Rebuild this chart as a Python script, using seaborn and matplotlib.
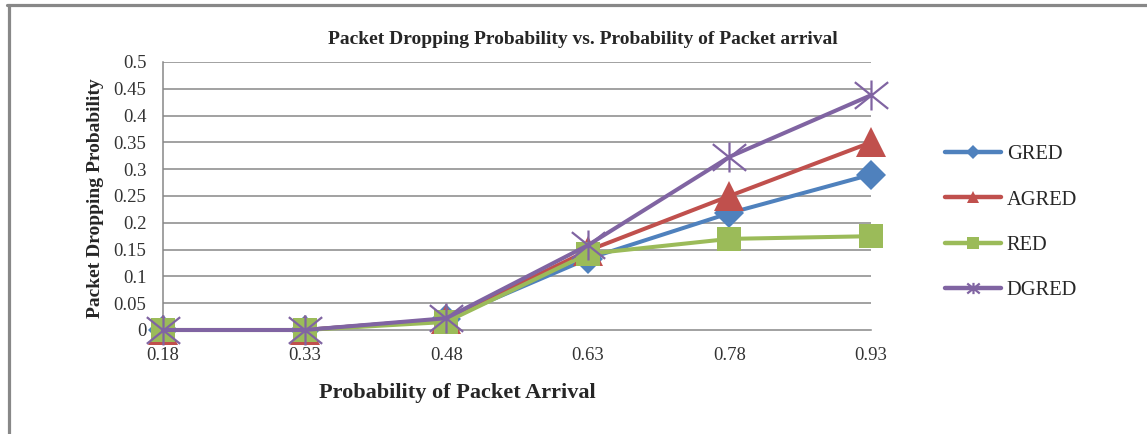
import numpy as np
import pandas as pd
import matplotlib
matplotlib.use("Agg")
import matplotlib.pyplot as plt
import seaborn as sns
from matplotlib.path import Path
from matplotlib.lines import Line2D

# ---------------- data ----------------
categories = ["0.18", "0.33", "0.48", "0.63", "0.78", "0.93"]
gred = [0.0, 0.0, 0.02, 0.133, 0.218, 0.29]
agred = [0.0, 0.0, 0.02, 0.148, 0.25, 0.35]
red = [0.0, 0.0, 0.015, 0.142, 0.17, 0.175]
dgred = [0.0, 0.0, 0.022, 0.158, 0.323, 0.438]
series_names = ["GRED", "AGRED", "RED", "DGRED"]
ytick_values = [0, 0.05, 0.1, 0.15, 0.2, 0.25, 0.3, 0.35, 0.4, 0.45, 0.5]
ytick_labels = ["0", "0.05", "0.1", "0.15", "0.2", "0.25", "0.3", "0.35", "0.4", "0.45", "0.5"]
title = "Packet Dropping Probability vs. Probability of Packet arrival"
xlabel = "Probability of Packet Arrival"
ylabel = "Packet Dropping Probability"

values = {"GRED": gred, "AGRED": agred, "RED": red, "DGRED": dgred}
pos = np.arange(len(categories))
df = pd.DataFrame(
    [(p, v, s) for s in series_names for p, v in zip(pos, values[s])],
    columns=["pos", "value", "series"],
)

# ---------------- style ----------------
sns.set_theme(style="white")
plt.rcParams["font.family"] = ["Liberation Serif", "DejaVu Serif"]

colors = {"GRED": "#4F81BD", "AGRED": "#C0504D", "RED": "#9BBB59", "DGRED": "#8064A2"}
star = Path(
    [(0, -0.9), (0, 0.9), (-1, -0.8), (1, 0.8), (-1, 0.8), (1, -0.8)],
    [Path.MOVETO, Path.LINETO, Path.MOVETO, Path.LINETO, Path.MOVETO, Path.LINETO],
)
markers = {"GRED": "D", "AGRED": "^", "RED": "s", "DGRED": star}
msizes = {"GRED": 15, "AGRED": 22, "RED": 17.5, "DGRED": 24}
leg_msizes = {"GRED": 7, "AGRED": 8, "RED": 8, "DGRED": 9}

W, H = 1147, 434
fig = plt.figure(figsize=(W / 100, H / 100), dpi=100)
fig.patch.set_facecolor("white")
L, R, T, B = 163, 871, 62, 330
ax = fig.add_axes([L / W, 1 - B / H, (R - L) / W, (B - T) / H])

grid_c = "#878787"
text_c = "#262626"
for y in ytick_values[1:]:
    ax.axhline(y, color=grid_c, lw=1.1, zorder=0)

for s in series_names:
    sub = df[df["series"] == s]
    kw = dict(
        marker=markers[s], markersize=msizes[s], color=colors[s],
        linewidth=2.9, clip_on=False, zorder=3,
    )
    if s == "DGRED":
        kw.update(markerfacecolor="none", markeredgecolor=colors[s], markeredgewidth=1.6)
    else:
        kw.update(markeredgewidth=0)
    sns.lineplot(data=sub, x="pos", y="value", ax=ax, label=s, **kw)

ax.set_xlim(pos[0], pos[-1])
ax.set_ylim(0, 0.5)
ax.set_xticks(pos)
ax.set_xticklabels(categories)
ax.set_yticks(ytick_values)
ax.set_yticklabels(ytick_labels)
ax.tick_params(axis="both", direction="out", length=4.5, width=1.1, color=grid_c,
               labelsize=13.5, labelcolor="#333333", pad=7.5)

for side in ["top", "right"]:
    ax.spines[side].set_visible(False)
for side in ["left", "bottom"]:
    ax.spines[side].set_color(grid_c)
    ax.spines[side].set_linewidth(1.1)

ax.set_xlabel(xlabel, fontsize=16, fontweight="bold", color=text_c)
ax.xaxis.set_label_coords((457 - L) / (R - L), -(383 - B) / (B - T))
ax.set_ylabel(ylabel, fontsize=14, fontweight="bold", color=text_c)
ax.yaxis.set_label_coords(-(L - 104) / (R - L), 0.49)

fig.text(582.5 / W, 1 - 40 / H, title, ha="center", va="center",
         fontsize=14, fontweight="bold", color=text_c)

leg = ax.legend(
    loc="center left", bbox_to_anchor=(945 / W, 1 - 222.5 / H),
    bbox_transform=fig.transFigure, frameon=False, fontsize=14.8,
    handlelength=2.7, handletextpad=0.3, labelspacing=1.26,
    borderpad=0, borderaxespad=0,
)
for h, s in zip(leg.legend_handles, series_names):
    h.set_markersize(leg_msizes[s])
    h.set_linewidth(3.2)
for t in leg.get_texts():
    t.set_color(text_c)

# outer frame (left and top edges)
fig.add_artist(Line2D([8.5 / W, 8.5 / W], [0, 1 - 5 / H], transform=fig.transFigure,
                      color="#888888", lw=2.3))
fig.add_artist(Line2D([7.5 / W, 1], [1 - 5 / H, 1 - 5 / H], transform=fig.transFigure,
                      color="#888888", lw=2.3))

fig.savefig("out.png", dpi=100, facecolor="white")
